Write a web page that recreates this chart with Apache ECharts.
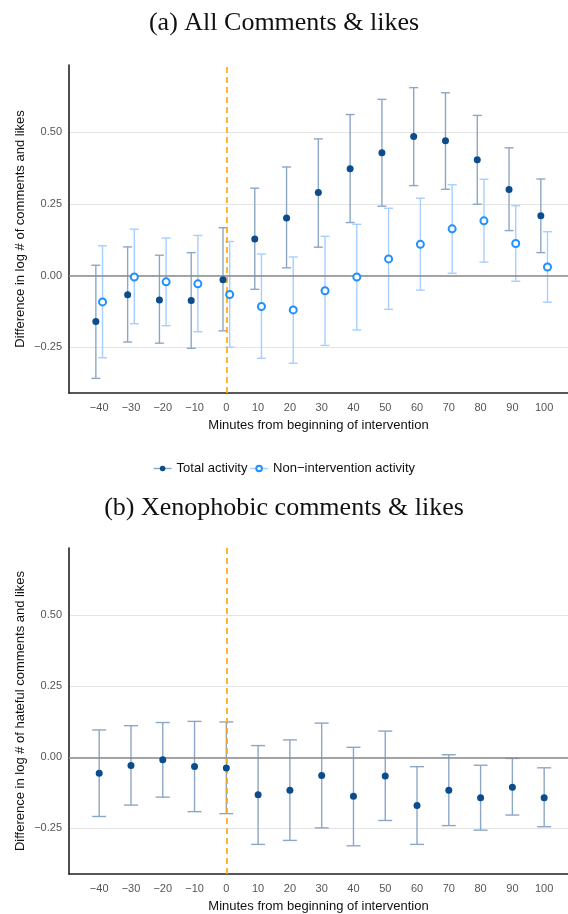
<!DOCTYPE html>
<html>
<head>
<meta charset="utf-8">
<script src="https://cdn.jsdelivr.net/npm/echarts@6/dist/echarts.min.js"></script>
<style>
  html, body { margin: 0; padding: 0; background: #fff; }
  #chart { width: 568px; height: 914px; }
</style>
</head>
<body>
<div id="chart"></div>
<script>
// Minutes relative to the start of the intervention
const minutes = [-40, -30, -20, -10, 0, 10, 20, 30, 40, 50, 60, 70, 80, 90, 100];
const xTicks = [-40, -30, -20, -10, 0, 10, 20, 30, 40, 50, 60, 70, 80, 90, 100];
const yTicks = [-0.25, 0, 0.25, 0.5];

// Panel (a): total activity (estimate and 95% interval)
const totalEst  = [-0.160, -0.067, -0.085, -0.087, -0.015, 0.128, 0.201, 0.290, 0.373, 0.429, 0.485, 0.471, 0.404, 0.300, 0.209];
const totalLow  = [-0.359, -0.232, -0.236, -0.254, -0.193, -0.048, 0.027, 0.099, 0.185, 0.242, 0.314, 0.301, 0.249, 0.157, 0.080];
const totalHigh = [0.036, 0.100, 0.071, 0.080, 0.167, 0.305, 0.379, 0.477, 0.562, 0.615, 0.656, 0.638, 0.559, 0.446, 0.337];

// Panel (a): non-intervention activity
const nonEst  = [-0.092, -0.005, -0.022, -0.029, -0.066, -0.108, -0.120, -0.053, -0.005, 0.058, 0.109, 0.163, 0.191, 0.112, 0.030];
const nonLow  = [-0.287, -0.168, -0.175, -0.196, -0.250, -0.289, -0.306, -0.244, -0.190, -0.118, -0.051, 0.008, 0.047, -0.020, -0.093];
const nonHigh = [0.104, 0.162, 0.131, 0.140, 0.119, 0.075, 0.065, 0.137, 0.179, 0.235, 0.270, 0.317, 0.336, 0.244, 0.153];

// Panel (b): xenophobic comments & likes
const hateEst  = [-0.056, -0.029, -0.009, -0.032, -0.038, -0.132, -0.116, -0.064, -0.137, -0.066, -0.169, -0.116, -0.142, -0.105, -0.142];
const hateLow  = [-0.208, -0.168, -0.140, -0.191, -0.198, -0.306, -0.292, -0.248, -0.311, -0.222, -0.306, -0.240, -0.256, -0.203, -0.244];
const hateHigh = [0.096, 0.111, 0.122, 0.126, 0.124, 0.041, 0.061, 0.120, 0.035, 0.092, -0.033, 0.009, -0.028, -0.004, -0.037];

const DARK = '#0b4d8c';
const DARK_BAR = '#8ca7c6';
const LIGHT = '#1e90ff';
const LIGHT_BAR = '#a6cfff';
const DODGE = 1.05; // horizontal dodge between the two series in panel (a), in minutes
const NAME_TOTAL = 'Total activity';
const NAME_NON = 'Non\u2212intervention activity';

const fmt = v => {
  const s = Math.abs(v).toFixed(2);
  return v < 0 ? '\u2212' + s : s;
};
const fmtX = v => (v < 0 ? '\u2212' + Math.abs(v) : String(v));

function errorBars(xs, lo, hi, shift) {
  return xs.map((m, i) => [m + shift, lo[i], hi[i]]);
}
function points(xs, est, shift) {
  return xs.map((m, i) => [m + shift, est[i]]);
}

function barSeries(id, idx, data, color, capHalf) {
  return {
    type: 'custom',
    id: id,
    name: id,
    xAxisIndex: idx,
    yAxisIndex: idx,
    z: 3,
    silent: true,
    data: data,
    renderItem: function (params, api) {
      const x = api.value(0);
      const pLo = api.coord([x, api.value(1)]);
      const pHi = api.coord([x, api.value(2)]);
      const style = { stroke: color, lineWidth: 1.4 };
      return {
        type: 'group',
        children: [
          { type: 'line', shape: { x1: pLo[0], y1: pLo[1], x2: pHi[0], y2: pHi[1] }, style: style },
          { type: 'line', shape: { x1: pLo[0] - capHalf, y1: pLo[1], x2: pLo[0] + capHalf, y2: pLo[1] }, style: style },
          { type: 'line', shape: { x1: pHi[0] - capHalf, y1: pHi[1], x2: pHi[0] + capHalf, y2: pHi[1] }, style: style }
        ]
      };
    }
  };
}

function refLines(idx) {
  // zero line and the dashed marker at the start of the intervention
  return {
    type: 'line',
    name: 'reference lines ' + idx,
    xAxisIndex: idx,
    yAxisIndex: idx,
    data: [],
    z: 2,
    silent: true,
    markLine: {
      silent: true,
      symbol: 'none',
      label: { show: false },
      animation: false,
      data: [
        { yAxis: 0, lineStyle: { color: '#8a8a8a', width: 1.6, type: 'solid' } },
        { xAxis: 0, lineStyle: { color: '#ffa500', width: 1.6, type: [6, 4] } }
      ]
    }
  };
}

function xAxisDef(idx) {
  return {
    type: 'value',
    gridIndex: idx,
    min: -49.5,
    max: 107.5,
    name: 'Minutes from beginning of intervention',
    nameLocation: 'middle',
    nameGap: 26,
    nameMoveOverlap: false,
    nameTextStyle: { color: '#111', fontSize: 13, fontFamily: 'Liberation Sans' },
    axisLine: { show: true, onZero: false, lineStyle: { color: '#222', width: 1.6 } },
    axisTick: { show: false, customValues: xTicks },
    axisLabel: { customValues: xTicks, formatter: fmtX, color: '#555', fontSize: 11, margin: 9, fontFamily: 'Liberation Sans' },
    splitLine: { show: false }
  };
}

function yAxisDef(idx, name) {
  return {
    type: 'value',
    gridIndex: idx,
    min: -0.41,
    max: 0.735,
    name: name,
    nameLocation: 'middle',
    nameGap: 42,
    nameMoveOverlap: false,
    nameTextStyle: { color: '#111', fontSize: 13, fontFamily: 'Liberation Sans' },
    axisLine: { show: true, onZero: false, lineStyle: { color: '#222', width: 1.6 } },
    axisTick: { show: false, customValues: yTicks },
    axisLabel: { customValues: yTicks, formatter: fmt, color: '#555', fontSize: 11, margin: 7, fontFamily: 'Liberation Sans' },
    splitLine: { show: true, lineStyle: { color: '#e4e4e4', width: 1 } }
  };
}

const titleStyle = { fontFamily: 'Liberation Serif', fontWeight: 'normal', fontSize: 26, color: '#111' };

const chart = echarts.init(document.getElementById('chart'), null, { renderer: 'canvas' });
chart.setOption({
  animation: false,
  backgroundColor: '#fff',
  title: [
    { text: '(a) All Comments & likes', left: 'center', top: 5, textStyle: titleStyle },
    { text: '(b) Xenophobic comments & likes', left: 'center', top: 490, textStyle: titleStyle }
  ],
  legend: {
    top: 457,
    left: 'center',
    itemWidth: 18,
    itemHeight: 7,
    itemGap: 2,
    textStyle: { color: '#111', fontSize: 13, fontFamily: 'Liberation Sans' },
    data: [
      { name: NAME_TOTAL, lineStyle: { width: 1.4, color: DARK_BAR, opacity: 1 } },
      { name: NAME_NON, lineStyle: { width: 1.4, color: LIGHT_BAR, opacity: 1 } }
    ]
  },
  grid: [
    { left: 69, right: 0, top: 65, height: 328, containLabel: false },
    { left: 69, right: 0, top: 548, height: 331, containLabel: false }
  ],
  xAxis: [xAxisDef(0), xAxisDef(1)],
  yAxis: [
    yAxisDef(0, 'Difference in log # of comments and likes'),
    yAxisDef(1, 'Difference in log # of hateful comments and likes')
  ],
  series: [
    refLines(0),
    refLines(1),
    barSeries('total-ci', 0, errorBars(minutes, totalLow, totalHigh, -DODGE), DARK_BAR, 4.5),
    barSeries('non-ci', 0, errorBars(minutes, nonLow, nonHigh, DODGE), LIGHT_BAR, 4.5),
    barSeries('hateful-ci', 1, errorBars(minutes, hateLow, hateHigh, 0), DARK_BAR, 7),
    {
      type: 'line', name: NAME_TOTAL, xAxisIndex: 0, yAxisIndex: 0, z: 5,
      data: points(minutes, totalEst, -DODGE),
      symbol: 'circle', symbolSize: 7, showSymbol: true,
      itemStyle: { color: DARK },
      lineStyle: { width: 0, opacity: 0 }
    },
    {
      type: 'line', name: NAME_NON, xAxisIndex: 0, yAxisIndex: 0, z: 5,
      data: points(minutes, nonEst, DODGE),
      symbol: 'emptyCircle', symbolSize: 7, showSymbol: true,
      itemStyle: { color: LIGHT, borderWidth: 2 },
      lineStyle: { width: 0, opacity: 0 }
    },
    {
      type: 'line', name: 'hateful-est', xAxisIndex: 1, yAxisIndex: 1, z: 5,
      data: points(minutes, hateEst, 0),
      symbol: 'circle', symbolSize: 7, showSymbol: true,
      itemStyle: { color: DARK },
      lineStyle: { width: 0, opacity: 0 }
    }
  ]
});
</script>
</body>
</html>
